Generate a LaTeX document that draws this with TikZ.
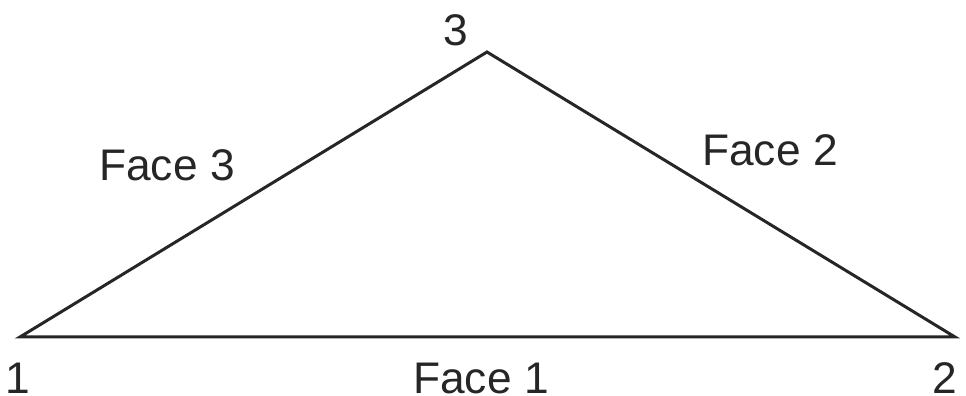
\documentclass[tikz,border=0pt]{standalone}
\usepackage{fontspec}
\setmainfont{Liberation Sans}
\usepackage{tikz}
\usetikzlibrary{positioning,calc}

\begin{document}
\begin{tikzpicture}[
      x=1cm, y=1cm,
      lbl/.style={font=\fontsize{12.6}{14}\selectfont, inner sep=0pt, text=black!85},
      edge/.style={line width=0.85pt, black!85}]
    \useasboundingbox (0,0) rectangle (9.66,3.96);
    % vertices
    \coordinate (v1) at (0.20,0.59);
    \coordinate (v2) at (9.55,0.59);
    \coordinate (v3) at (4.87,3.44);
    \draw[edge] (v1) -- (v2) -- (v3) -- cycle;
    % vertex numbers
    \node[lbl] (n1) at (0.18,0.18) {1};
    \node[lbl] (n2) at (9.45,0.18) {2};
    \node[lbl] (n3) at (4.56,3.66) {3};
    % face names
    \node[lbl] (f1) at (4.81,0.18) {Face 1};
    \node[lbl] (f2) at (7.70,2.46) {Face 2};
    \node[lbl] (f3) at (1.67,2.31) {Face 3};
  \end{tikzpicture}
\end{document}
